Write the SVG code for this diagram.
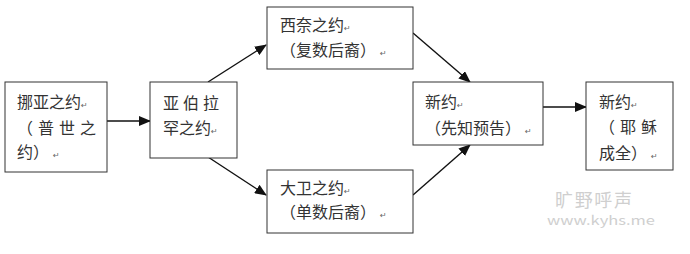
<svg xmlns="http://www.w3.org/2000/svg" width="690" height="254" viewBox="0 0 690 254">
<style>
.box{fill:#fff;stroke:#333;stroke-width:1}
.t{font-family:"Noto Sans CJK SC","Noto Sans",sans-serif;font-size:16px;fill:#333}
.m{font-family:"DejaVu Sans",sans-serif;font-size:8px;fill:#666}
.c{stroke:#111;stroke-width:1.4;fill:none;marker-end:url(#ah)}
.wm{font-family:"Noto Sans CJK SC","Liberation Sans",sans-serif;fill:#cfcfcf}
</style>
<defs>
<marker id="ah" markerWidth="12" markerHeight="10" refX="11" refY="5" orient="auto" markerUnits="userSpaceOnUse">
<path d="M0,0 L12,5 L0,10 Z" fill="#111"/>
</marker>
</defs>
<rect width="690" height="254" fill="#fff"/>
<g id="connectors">
<line class="c" x1="107" y1="121" x2="150" y2="121"/>
<line class="c" x1="208" y1="82" x2="266" y2="45"/>
<line class="c" x1="208" y1="157" x2="266" y2="195"/>
<line class="c" x1="413" y1="33" x2="470" y2="82"/>
<line class="c" x1="413" y1="195" x2="470" y2="145"/>
<line class="c" x1="543" y1="107" x2="586" y2="107"/>
</g>
<g id="noah">
<rect class="box" x="5" y="82" width="102" height="90"/>
<text class="t" x="17" y="108">挪亚之约<tspan class="m">↵</tspan></text>
<text class="t" x="17 38 59 80" y="134">（普世之</text>
<text class="t" x="17" y="158">约）<tspan class="m" dx="4">↵</tspan></text>
</g>
<g id="abraham">
<rect class="box" x="150" y="82" width="87" height="76"/>
<text class="t" x="163 183 203" y="109">亚伯拉</text>
<text class="t" x="163" y="134">罕之约<tspan class="m">↵</tspan></text>
</g>
<g id="sinai">
<rect class="box" x="267" y="7" width="146" height="62"/>
<text class="t" x="280" y="31">西奈之约<tspan class="m">↵</tspan></text>
<text class="t" x="280" y="56">（复数后裔）<tspan class="m" dx="4">↵</tspan></text>
</g>
<g id="david">
<rect class="box" x="267" y="170" width="146" height="63"/>
<text class="t" x="280" y="194">大卫之约<tspan class="m">↵</tspan></text>
<text class="t" x="280" y="218">（单数后裔）<tspan class="m" dx="4">↵</tspan></text>
</g>
<g id="newprophet">
<rect class="box" x="413" y="82" width="130" height="63"/>
<text class="t" x="425" y="108">新约<tspan class="m">↵</tspan></text>
<text class="t" x="425" y="134">（先知预告）<tspan class="m" dx="4">↵</tspan></text>
</g>
<g id="newjesus">
<rect class="box" x="586" y="82" width="87" height="88"/>
<text class="t" x="599" y="108">新约<tspan class="m">↵</tspan></text>
<text class="t" x="599 620 641" y="133">（耶稣</text>
<text class="t" x="599" y="159">成全）<tspan class="m" dx="4">↵</tspan></text>
</g>
<g id="watermark">
<text class="wm" x="555" y="207" font-size="18" textLength="77" lengthAdjust="spacing">旷野呼声</text>
<text class="wm" x="547" y="225" font-size="13" font-family="Liberation Sans, sans-serif" textLength="108" lengthAdjust="spacingAndGlyphs">www.kyhs.me</text>
</g>
</svg>
